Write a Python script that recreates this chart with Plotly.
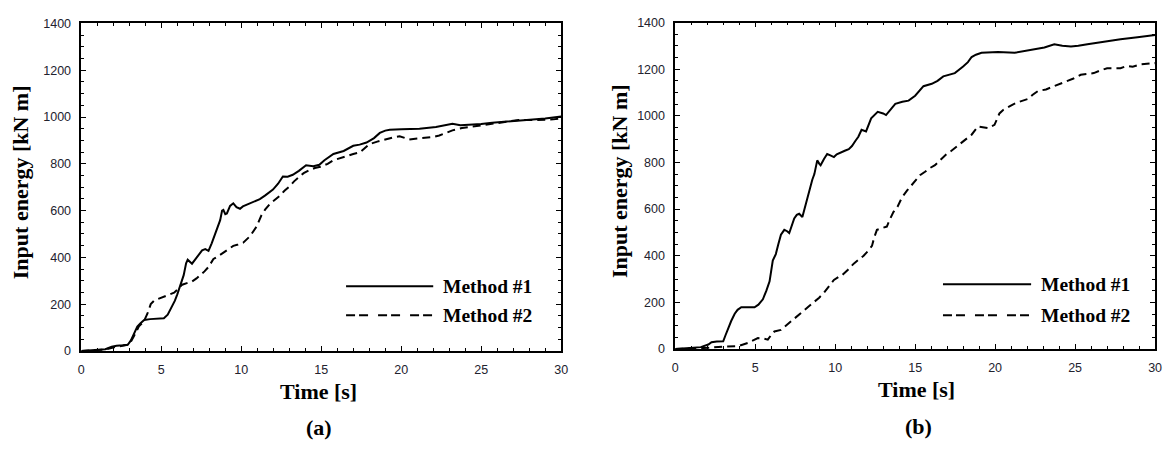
import plotly.graph_objects as go

# ---- data (a) ----
a_t1 = [0, 0.5, 1.0, 1.5, 1.9, 2.2, 2.6, 2.9, 3.1, 3.3, 3.5, 3.7, 3.93, 4.3, 4.8, 5.16, 5.4, 5.6, 5.85, 6.0,
        6.2, 6.4, 6.55, 6.65, 6.92, 7.1, 7.33, 7.55, 7.75, 7.95, 8.15, 8.37, 8.55, 8.68, 8.8, 8.88, 9.0, 9.1,
        9.3, 9.5, 9.7, 9.92, 10.1, 10.33, 10.7, 11.16, 11.5, 11.98, 12.3, 12.6, 12.9, 13.22, 13.6, 14.05, 14.5,
        14.88, 15.2, 15.76, 16.4, 17.0, 17.4, 17.83, 18.3, 18.66, 19.0, 19.28, 20.0, 21.14, 22.17, 23.2, 23.7,
        24.24, 25.0, 25.69, 26.5, 27.34, 28.2, 29.0, 30.0]
a_e1 = [0, 2, 4, 7, 18, 22, 24, 26, 45, 75, 104, 118, 132, 136, 137, 140, 155, 180, 215, 242,
        280, 324, 375, 390, 373, 390, 414, 430, 435, 428, 460, 504, 540, 559, 600, 603, 585, 588,
        620, 631, 615, 608, 618, 625, 635, 649, 665, 690, 715, 746, 745, 753, 770, 794, 790,
        796, 815, 842, 855, 877, 882, 891, 910, 932, 942, 946, 948, 950, 957, 971, 965,
        967, 970, 976, 980, 987, 990, 994, 1002]

a_t2 = [0, 0.5, 1.0, 1.5, 2.0, 2.5, 3.0, 3.3, 3.6, 3.9, 4.13, 4.34, 4.55, 4.75, 5.0, 5.37, 5.8, 6.0, 6.3, 6.6,
        6.92, 7.2, 7.44, 7.7, 7.95, 8.26, 8.55, 8.88, 9.2, 9.5, 9.8, 10.12, 10.54, 10.75, 10.95, 11.26, 11.5,
        11.78, 12.1, 12.4, 12.7, 13.02, 13.3, 13.64, 13.9, 14.26, 14.6, 14.94, 15.4, 15.76, 16.2, 16.59, 17.0,
        17.41, 17.7, 18.0, 18.5, 19.07, 19.5, 19.9, 20.2, 20.5, 21.0, 21.55, 22.0, 22.38, 22.8, 23.2, 23.8,
        24.2, 24.65, 25.2, 25.69, 26.5, 27.34, 28.2, 29.0, 29.5, 30.0]
a_e2 = [0, 1, 3, 6, 15, 22, 28, 65, 105, 125, 159, 200, 215, 221, 228, 235, 249, 262, 283, 290,
        297, 310, 324, 340, 359, 393, 405, 421, 435, 449, 455, 463, 490, 510, 531, 580, 605,
        628, 645, 663, 685, 704, 725, 746, 760, 773, 782, 787, 800, 815, 825, 835, 842,
        849, 865, 884, 895, 907, 913, 918, 910, 904, 908, 911, 915, 921, 932, 943, 953,
        957, 960, 968, 973, 980, 987, 987, 987, 990, 994]

# ---- data (b) ----
b_t1 = [0, 0.5, 1.0, 1.24, 1.6, 2.07, 2.27, 2.6, 3.0, 3.15, 3.3, 3.5, 3.72, 3.9, 4.13, 4.5, 4.96, 5.2, 5.48,
        5.7, 5.9, 6.1, 6.29, 6.45, 6.61, 6.82, 7.0, 7.13, 7.3, 7.44, 7.6, 7.75, 7.95, 8.1, 8.26, 8.4, 8.57,
        8.7, 8.78, 8.88, 9.0, 9.09, 9.3, 9.5, 9.7, 9.92, 10.1, 10.33, 10.6, 10.85, 11.05, 11.26, 11.45, 11.65,
        11.93, 12.25, 12.66, 13.0, 13.18, 13.5, 13.76, 14.2, 14.59, 15.0, 15.3, 15.52, 16.04, 16.4, 16.76,
        17.1, 17.48, 18.0, 18.3, 18.53, 18.8, 19.15, 19.7, 20.18, 21.22, 22.05, 22.6, 23.08, 23.7, 24.2,
        24.74, 25.2, 25.77, 26.8, 27.84, 28.9, 30.0]
b_e1 = [0, 3, 4, 5, 8, 19, 29, 32, 33, 60, 89, 120, 151, 168, 179, 178, 179, 190, 213,
        250, 290, 379, 407, 450, 490, 511, 505, 497, 530, 560, 575, 580, 566, 605, 649, 690, 726,
        750, 774, 809, 795, 788, 815, 836, 830, 823, 835, 843, 850, 857, 870, 892, 910, 940,
        933, 989, 1017, 1010, 1003, 1030, 1051, 1060, 1065, 1086, 1110, 1127, 1137, 1150, 1169,
        1175, 1183, 1211, 1230, 1252, 1262, 1270, 1272, 1273, 1270, 1280, 1286, 1293, 1307, 1300,
        1297, 1300, 1307, 1318, 1328, 1337, 1346]

b_t2 = [0, 1.0, 2.07, 3.0, 3.5, 3.93, 4.2, 4.55, 4.9, 5.17, 5.5, 5.79, 6.0, 6.2, 6.61, 6.98, 7.2, 7.44, 7.75,
        8.06, 8.4, 8.68, 9.0, 9.3, 9.6, 9.92, 10.2, 10.44, 10.8, 11.16, 11.5, 11.78, 12.05, 12.3, 12.45,
        12.61, 12.9, 13.23, 13.45, 13.64, 13.9, 14.17, 14.5, 14.79, 15.1, 15.3, 15.62, 15.9, 16.24, 16.65,
        16.95, 17.27, 17.6, 17.89, 18.2, 18.53, 18.92, 19.2, 19.55, 19.96, 20.1, 20.27, 20.5, 20.79, 21.1,
        21.41, 21.7, 22.05, 22.35, 22.67, 23.18, 23.5, 23.9, 24.2, 24.52, 24.9, 25.35, 25.7, 26.17, 26.6,
        27.0, 27.5, 27.84, 28.25, 28.6, 29.07, 29.5, 30.0]
b_e2 = [0, 2, 5, 10, 10, 12, 18, 26, 38, 47, 45, 40, 60, 75, 82, 103, 115, 130, 148,
        165, 182, 199, 220, 241, 268, 296, 308, 317, 340, 366, 385, 400, 420, 442, 480,
        511, 518, 525, 560, 587, 610, 649, 680, 705, 730, 745, 760, 775, 788, 816,
        835, 850, 868, 885, 900, 919, 954, 950, 947, 961, 985, 1010, 1025, 1037, 1048,
        1058, 1065, 1072, 1090, 1106, 1113, 1122, 1134, 1140, 1148, 1160, 1176, 1180, 1183, 1195,
        1204, 1204, 1204, 1214, 1210, 1220, 1222, 1226]

series_names = ["Method #1", "Method #2"]
x_ticks = [0, 5, 10, 15, 20, 25, 30]
y_ticks = [0, 200, 400, 600, 800, 1000, 1200, 1400]
x_title = "Time [s]"
y_title = "Input energy [kN m]"
panel_labels = ["(a)", "(b)"]

W, H = 1171, 449
SERIF = "Liberation Serif, Times New Roman, serif"
SANS = "Liberation Sans, Arial, sans-serif"
DASH = "8px,5px"

fig = go.Figure()
for (t1, e1, t2, e2, xa, ya) in [(a_t1, a_e1, a_t2, a_e2, "x", "y"),
                                 (b_t1, b_e1, b_t2, b_e2, "x2", "y2")]:
    fig.add_trace(go.Scatter(x=t1, y=e1, mode="lines", xaxis=xa, yaxis=ya, name=series_names[0],
                             line=dict(color="black", width=2), showlegend=False))
    fig.add_trace(go.Scatter(x=t2, y=e2, mode="lines", xaxis=xa, yaxis=ya, name=series_names[1],
                             line=dict(color="black", width=2, dash=DASH), showlegend=False))

def px_x(p):
    return p / W

def px_y(p):
    return 1 - p / H

panels = [
    dict(l=79, r=563, t=17, b=355),
    dict(l=678, r=1162, t=16, b=353),
]

axis_common = dict(
    showline=True, linecolor="black", linewidth=1.5, mirror="ticks",
    ticks="inside", ticklen=5, tickwidth=1, tickcolor="black",
    showgrid=False, zeroline=False,
    tickfont=dict(family=SANS, size=12.5, color="#22222e"),
)

layout = dict(width=W, height=H, margin=dict(l=0, r=0, t=0, b=0),
              paper_bgcolor="white", plot_bgcolor="white", showlegend=False)

for i, p in enumerate(panels):
    sx = "" if i == 0 else "2"
    layout["xaxis" + sx] = dict(
        axis_common, domain=[px_x(p["l"]), px_x(p["r"])], range=[0, 30],
        tickvals=x_ticks, ticktext=[str(v) for v in x_ticks],
        minor=dict(dtick=1, ticklen=3, tickwidth=1, tickcolor="black", ticks="inside"),
        anchor="y" + sx, ticklabelstandoff=6,
    )
    layout["yaxis" + sx] = dict(
        axis_common, domain=[px_y(p["b"]), px_y(p["t"])], range=[0, 1400],
        tickvals=y_ticks, ticktext=[str(v) for v in y_ticks],
        minor=dict(dtick=50, ticklen=3, tickwidth=1, tickcolor="black", ticks="inside"),
        anchor="x" + sx, ticklabelstandoff=6,
    )

fig.update_layout(**layout)

# axis titles and panel labels
ann = []
title_pos = [dict(xt=318.5, yt=397, yx=18, yy=181, pl=(318.5, 434)),
             dict(xt=921.7, yt=395, yx=622, yy=180, pl=(923.5, 432.5))]
for i, tp in enumerate(title_pos):
    ann.append(dict(x=px_x(tp["xt"]), y=px_y(tp["yt"]), xref="paper", yref="paper",
                    text="<b>%s</b>" % x_title, showarrow=False, xanchor="center", yanchor="middle",
                    font=dict(family=SERIF, size=22, color="black")))
    ann.append(dict(x=px_x(tp["yx"]), y=px_y(tp["yy"]), xref="paper", yref="paper",
                    text="<b>%s</b>" % y_title, showarrow=False, textangle=-90,
                    xanchor="center", yanchor="middle",
                    font=dict(family=SERIF, size=22, color="black")))
    ann.append(dict(x=px_x(tp["pl"][0]), y=px_y(tp["pl"][1]), xref="paper", yref="paper",
                    text="<b>%s</b>" % panel_labels[i], showarrow=False, xanchor="center", yanchor="middle",
                    font=dict(family=SERIF, size=22, color="black")))

# manual legends (in data coordinates of each panel)
legend_spec = [
    dict(xa="x", ya="y", x0=16.55, x1=22.0, xt=22.5, y1=277, y2=153),
    dict(xa="x2", ya="y2", x0=16.74, x1=22.25, xt=22.75, y1=278, y2=145),
]
shapes = []
for ls in legend_spec:
    shapes.append(dict(type="line", xref=ls["xa"], yref=ls["ya"], x0=ls["x0"], x1=ls["x1"],
                       y0=ls["y1"], y1=ls["y1"], line=dict(color="black", width=2)))
    shapes.append(dict(type="line", xref=ls["xa"], yref=ls["ya"], x0=ls["x0"], x1=ls["x1"],
                       y0=ls["y2"], y1=ls["y2"], line=dict(color="black", width=2, dash="9px,4px,9px,10px")))
    for name, yy in zip(series_names, [ls["y1"], ls["y2"]]):
        ann.append(dict(x=ls["xt"], y=yy, xref=ls["xa"], yref=ls["ya"], text="<b>%s</b>" % name,
                        showarrow=False, xanchor="left", yanchor="middle",
                        font=dict(family=SERIF, size=19.5, color="black")))

fig.update_layout(annotations=ann, shapes=shapes)
fig.write_html("out.html")
